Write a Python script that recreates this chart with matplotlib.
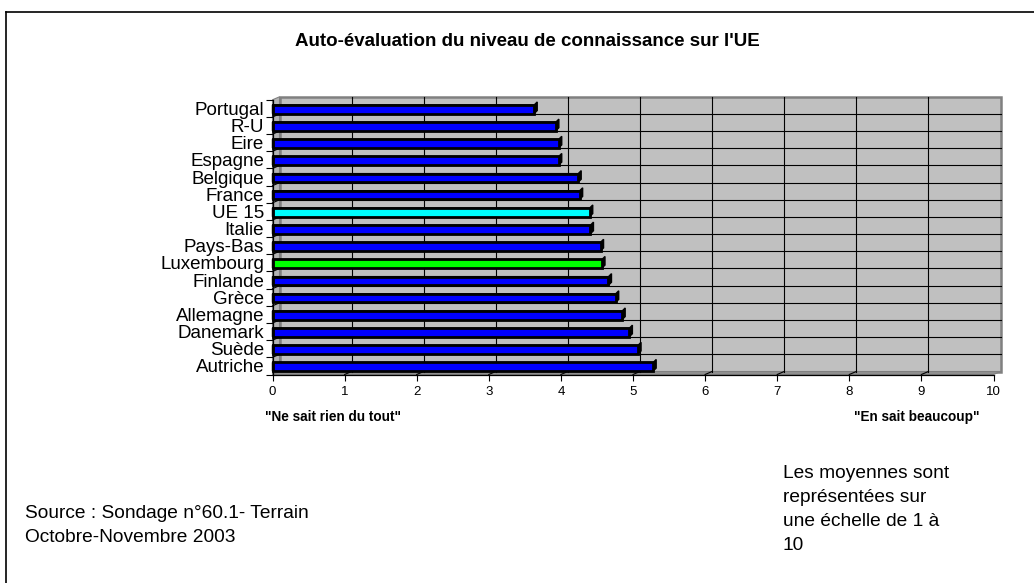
import numpy as np
import matplotlib
matplotlib.use("Agg")
import matplotlib.pyplot as plt
from matplotlib.patches import Rectangle, Polygon
from matplotlib.lines import Line2D

plt.rcParams['font.family'] = ['Liberation Sans', 'DejaVu Sans']

# donnees (de haut en bas)
pays = ['Portugal', 'R-U', 'Eire', 'Espagne', 'Belgique', 'France', 'UE 15', 'Italie',
        'Pays-Bas', 'Luxembourg', 'Finlande', 'Grèce', 'Allemagne', 'Danemark', 'Suède', 'Autriche']
moyennes = [3.63, 3.93, 3.97, 3.97, 4.24, 4.26, 4.40, 4.41,
            4.55, 4.57, 4.66, 4.76, 4.85, 4.95, 5.07, 5.28]
xticks = list(range(0, 11))

titre = "Auto-évaluation du niveau de connaissance sur l'UE"
source = ["Source : Sondage n°60.1- Terrain", "Octobre-Novembre 2003"]
note = ["Les moyennes sont", "représentées sur", "une échelle de 1 à", "10"]

couleur_base = '#0000FF'
couleurs_speciales = {'UE 15': '#00FFFF', 'Luxembourg': '#00FF00'}

W, H = 1034, 583
fig = plt.figure(figsize=(W / 100, H / 100), dpi=100)
fig.patch.set_facecolor('white')

ax_l, ax_r, ax_t, ax_b = 272.5, 993.5, 99.8, 374.5
ax = fig.add_axes([ax_l / W, 1 - ax_b / H, (ax_r - ax_l) / W, (ax_b - ax_t) / H])
n = len(pays)
ax.set_xlim(0, 10)
ax.set_ylim(n - 0.5, -0.5)
ax.set_facecolor('none')

# profondeur 3D (en unites de donnees)
ddx = 7 / ((ax_r - ax_l) / 10)
ddy = 3 / ((ax_b - ax_t) / n)
top, bot = -0.5, n - 0.5

# mur du fond
ax.add_patch(Rectangle((ddx, top - ddy), 10, n, fc='#C0C0C0', ec='#808080', lw=1.8,
                       zorder=0, clip_on=False))
# mur de gauche
ax.add_patch(Polygon([(0, top), (0, bot), (ddx, bot - ddy), (ddx, top - ddy)],
                     closed=True, fc='#B4B4B4', ec='#808080', lw=0.8, zorder=0.5, clip_on=False))
# sol
ax.add_patch(Polygon([(0, bot), (10, bot), (10 + ddx, bot - ddy), (ddx, bot - ddy)],
                     closed=True, fc='#909090', ec='#808080', lw=0.8, zorder=0.5, clip_on=False))

# quadrillage
for k in range(1, n):
    y = k - 0.5
    ax.plot([ddx, 10 + ddx], [y - ddy, y - ddy], color='black', lw=0.8, zorder=1, clip_on=False)
    ax.plot([0, ddx], [y, y - ddy], color='black', lw=0.8, zorder=1, clip_on=False)
for k in range(1, 10):
    ax.plot([k + ddx, k + ddx], [top - ddy, bot - ddy], color='black', lw=0.8, zorder=1, clip_on=False)
    ax.plot([k, k + ddx], [bot, bot - ddy], color='black', lw=0.8, zorder=1, clip_on=False)

# barres
h = 0.5
ex = 3 / ((ax_r - ax_l) / 10)
ey = 3 / ((ax_b - ax_t) / n)
for i, (p, v) in enumerate(zip(pays, moyennes)):
    c = couleurs_speciales.get(p, couleur_base)
    y0 = i - h / 2 + 0.05
    ax.add_patch(Polygon([(0, y0), (v, y0), (v + ex, y0 - ey), (v + ex, y0 + h - ey),
                          (v, y0 + h), (0, y0 + h)],
                         closed=True, fc='black', ec='black', lw=1.0, zorder=2, clip_on=False))
    ax.add_patch(Rectangle((0, y0), v, h, fc=c, ec='black', lw=2.0, zorder=3, clip_on=False))

# axes
for s in ['top', 'right']:
    ax.spines[s].set_visible(False)
for s in ['left', 'bottom']:
    ax.spines[s].set_color('black')
    ax.spines[s].set_linewidth(0.9)
    ax.spines[s].set_zorder(4)

ax.set_xticks(xticks)
ax.set_xticklabels([str(t) for t in xticks], fontsize=9.5)
ax.tick_params(axis='x', length=4, width=0.8, pad=4)

ax.set_yticks(np.arange(n + 1) - 0.5)
ax.set_yticklabels([])
ax.tick_params(axis='y', which='major', length=5, width=0.8)
ax.set_yticks(np.arange(n), minor=True)
ax.set_yticklabels(pays, minor=True, fontsize=13.5)
ax.tick_params(axis='y', which='minor', length=0, pad=6)

# textes
fig.text(527 / W, 1 - 41 / H, titre, ha='center', va='center', fontsize=13.5, fontweight='bold')
fig.text(333 / W, 1 - 417 / H, '"Ne sait rien du tout"', ha='center', va='center',
         fontsize=9.8, fontweight='bold')
fig.text(917 / W, 1 - 417 / H, '"En sait beaucoup"', ha='center', va='center',
         fontsize=9.8, fontweight='bold')
for j, ligne in enumerate(source):
    fig.text(25 / W, 1 - (513 + 24 * j) / H, ligne, ha='left', va='center', fontsize=13.8)
for j, ligne in enumerate(note):
    fig.text(783 / W, 1 - (474 + 23.7 * j) / H, ligne, ha='left', va='center', fontsize=13.8)

# cadre
fig.add_artist(Line2D([6 / W, 1], [1 - 12 / H, 1 - 12 / H], color='black', lw=1.2))
fig.add_artist(Line2D([6 / W, 6 / W], [1 - 12 / H, 0], color='black', lw=1.2))

fig.savefig('out.png', dpi=100)
